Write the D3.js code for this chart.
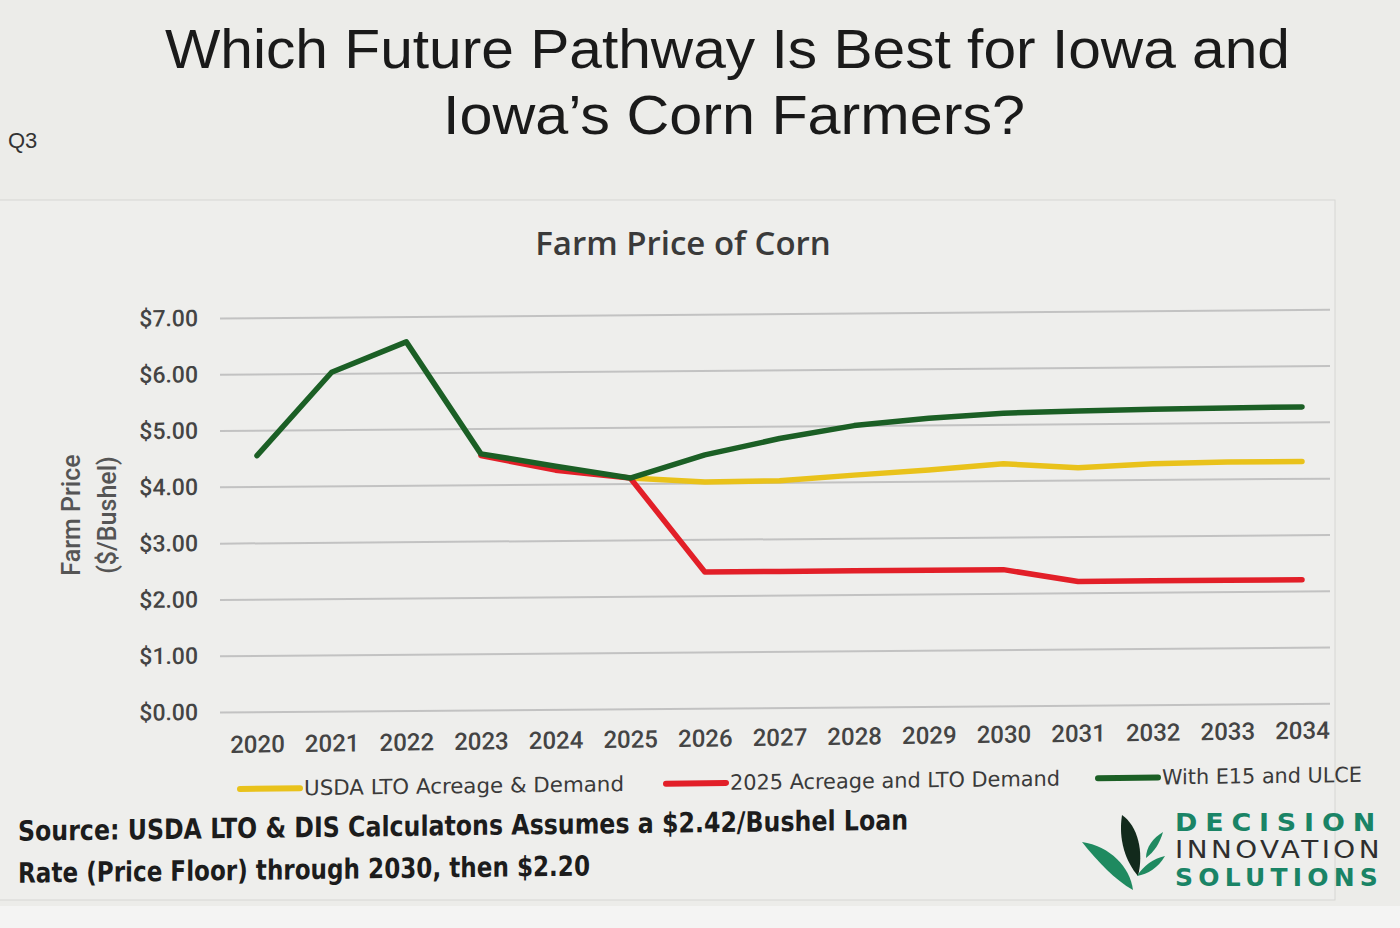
<!DOCTYPE html>
<html>
<head>
<meta charset="utf-8">
<style>
body { margin: 0; background: #ebebe8; }
svg { display: block; }
.title { font-family: "Liberation Sans", Arial, sans-serif; font-size: 56px; fill: #1a1a1a; }
.tick text { font-family: Roboto, sans-serif; font-weight: 500; fill: #444; }
.legend, .source { font-family: "DejaVu Sans Condensed", "Liberation Sans", sans-serif; }
</style>
</head>
<body>
<svg id="chart" width="1400" height="928"></svg>
<script src="https://d3js.org/d3.v7.min.js"></script>
<script>
let years = [2020, 2021, 2022, 2023, 2024, 2025, 2026, 2027, 2028, 2029, 2030, 2031, 2032, 2033, 2034];
let usdaLto = [null, null, null, null, null, 4.10, 4.02, 4.03, 4.12, 4.20, 4.30, 4.22, 4.28, 4.30, 4.30];
let acreage2025 = [null, null, null, 4.52, 4.25, 4.10, 2.42, 2.42, 2.42, 2.42, 2.42, 2.20, 2.20, 2.20, 2.20];
let withE15 = [4.55, 6.02, 6.55, 4.55, 4.32, 4.10, 4.50, 4.78, 5.00, 5.12, 5.20, 5.23, 5.25, 5.26, 5.27];
let yTicks = [0, 1, 2, 3, 4, 5, 6, 7];
let seriesNames = ["USDA LTO Acreage & Demand", "2025 Acreage and LTO Demand", "With E15 and ULCE"];
let seriesColors = ["#e9c21b", "#e21f28", "#1b5f25"];

let svg = d3.select("#chart");

// slide background
svg.append("rect").attr("x", 0).attr("y", 0).attr("width", 1400).attr("height", 928).attr("fill", "#ecece9");
svg.append("rect").attr("x", 0).attr("y", 906).attr("width", 1400).attr("height", 22).attr("fill", "#f4f4f3");
svg.append("rect").attr("x", -2).attr("y", 200).attr("width", 1337).attr("height", 700)
    .attr("fill", "#eeeeec").attr("stroke", "#d6d6d4");

// title
svg.append("text").attr("class", "title").attr("x", 165).attr("y", 68)
    .attr("textLength", 1125).attr("lengthAdjust", "spacingAndGlyphs")
    .text("Which Future Pathway Is Best for Iowa and");
svg.append("text").attr("class", "title").attr("x", 443).attr("y", 134)
    .attr("textLength", 582).attr("lengthAdjust", "spacingAndGlyphs")
    .text("Iowa’s Corn Farmers?");
svg.append("text").attr("x", 8).attr("y", 148).attr("font-family", "Liberation Sans, sans-serif")
    .attr("font-size", 22).attr("fill", "#333").text("Q3");

svg.append("text").attr("x", 683).attr("y", 255).attr("text-anchor", "middle")
    .attr("font-family", "Open Sans, sans-serif").attr("font-weight", 600).attr("font-size", 33)
    .attr("fill", "#3a3a3a").text("Farm Price of Corn");

let xScale = d3.scalePoint().domain(years).range([257, 1302]);
let yScale = d3.scaleLinear().domain([0, 7]).range([712, 318]);

// photo is taken at a slight angle: plot area leans up to the right
let plot = svg.append("g").attr("transform", "translate(220,0) skewY(-0.45) translate(-220,0)");

// gridlines + y axis
let yAxis = plot.append("g").attr("transform", "translate(220,0)")
    .call(d3.axisLeft(yScale).tickValues(yTicks).tickFormat(d => "$" + d3.format(".2f")(d))
        .tickSize(-1110).tickPadding(22));
yAxis.select(".domain").remove();
yAxis.selectAll(".tick line").attr("stroke", "#c2c2c2").attr("stroke-width", 2);
yAxis.selectAll(".tick text").attr("font-size", 23);

// x axis
let xAxis = svg.append("g").attr("transform", "translate(220,0) skewY(-0.75) translate(-220,712)")
    .call(d3.axisBottom(xScale).tickSize(0).tickPadding(24));
xAxis.select(".domain").remove();
xAxis.selectAll(".tick text").attr("font-size", 24).attr("fill", "#333");

// y axis title
let yt = svg.append("text").attr("transform", "translate(80,515) rotate(-90)")
    .attr("text-anchor", "middle").attr("font-family", "Roboto, sans-serif").attr("font-weight", 500)
    .attr("font-size", 25).attr("fill", "#555");
yt.append("tspan").attr("x", 0).attr("dy", 0).text("Farm Price");
yt.append("tspan").attr("x", 0).attr("dy", 36).text("($/Bushel)");

// lines
let line = d3.line()
    .defined(d => d.v !== null)
    .x(d => xScale(d.year))
    .y(d => yScale(d.v));
[usdaLto, acreage2025, withE15].forEach(function(vals, i) {
    plot.append("path")
        .datum(years.map((y, j) => ({year: y, v: vals[j]})))
        .attr("fill", "none")
        .attr("stroke", seriesColors[i])
        .attr("stroke-width", 5.5)
        .attr("stroke-linejoin", "round")
        .attr("stroke-linecap", "round")
        .attr("d", line);
});

// lower part of the slide (legend, source)
let lower = svg.append("g").attr("transform", "skewY(-0.72)");

let legendX = [240, 666, 1098];
let legendW = [320, 330, 200];
seriesNames.forEach(function(name, i) {
    let g = lower.append("g").attr("class", "legend").attr("transform", "translate(" + legendX[i] + ",792)");
    g.append("line").attr("x1", 0).attr("x2", 60).attr("y1", 0).attr("y2", 0)
        .attr("stroke", seriesColors[i]).attr("stroke-width", 6).attr("stroke-linecap", "round");
    g.append("text").attr("x", 64).attr("y", 7).attr("font-size", 21).attr("fill", "#3a3a3a")
        .attr("textLength", legendW[i]).attr("lengthAdjust", "spacingAndGlyphs").text(name);
});

// source note
lower.append("text").attr("class", "source").attr("x", 18).attr("y", 841).attr("font-size", 28)
    .attr("font-weight", "bold").attr("fill", "#1c1c1c")
    .attr("textLength", 890).attr("lengthAdjust", "spacingAndGlyphs")
    .text("Source: USDA LTO & DIS Calculatons Assumes a $2.42/Bushel Loan");
lower.append("text").attr("class", "source").attr("x", 18).attr("y", 883).attr("font-size", 28)
    .attr("font-weight", "bold").attr("fill", "#1c1c1c")
    .attr("textLength", 572).attr("lengthAdjust", "spacingAndGlyphs")
    .text("Rate (Price Floor) through 2030, then $2.20");

// logo
let logo = svg.append("g").attr("transform", "translate(1080,812)");
logo.append("path").attr("d", "M2,30 C30,34 50,55 53,78 C35,68 18,50 2,30 Z").attr("fill", "#1f8a60");
logo.append("path").attr("d", "M42,3 C58,14 64,40 58,64 C46,50 38,28 42,3 Z").attr("fill", "#122a1c");
logo.append("path").attr("d", "M83,20 C80,31 74,40 66,46 C66,35 73,26 83,20 Z").attr("fill", "#1f8a60");
logo.append("path").attr("d", "M85,44 C78,56 68,62 57,64 C64,53 73,47 85,44 Z").attr("fill", "#1f8a60");
let logoText = [["DECISION", "#1a8466", "bold", 831, 7], ["INNOVATION", "#2e2e2e", "normal", 858, 3], ["SOLUTIONS", "#1a8466", "bold", 886, 5]];
logoText.forEach(function(t) {
    svg.append("text").attr("x", 1175).attr("y", t[3])
        .attr("font-family", "DejaVu Sans, sans-serif").attr("font-size", 24)
        .attr("font-weight", t[2]).attr("letter-spacing", t[4])
        .attr("textLength", 208).attr("lengthAdjust", "spacingAndGlyphs")
        .attr("fill", t[1]).text(t[0]);
});
</script>
</body>
</html>
